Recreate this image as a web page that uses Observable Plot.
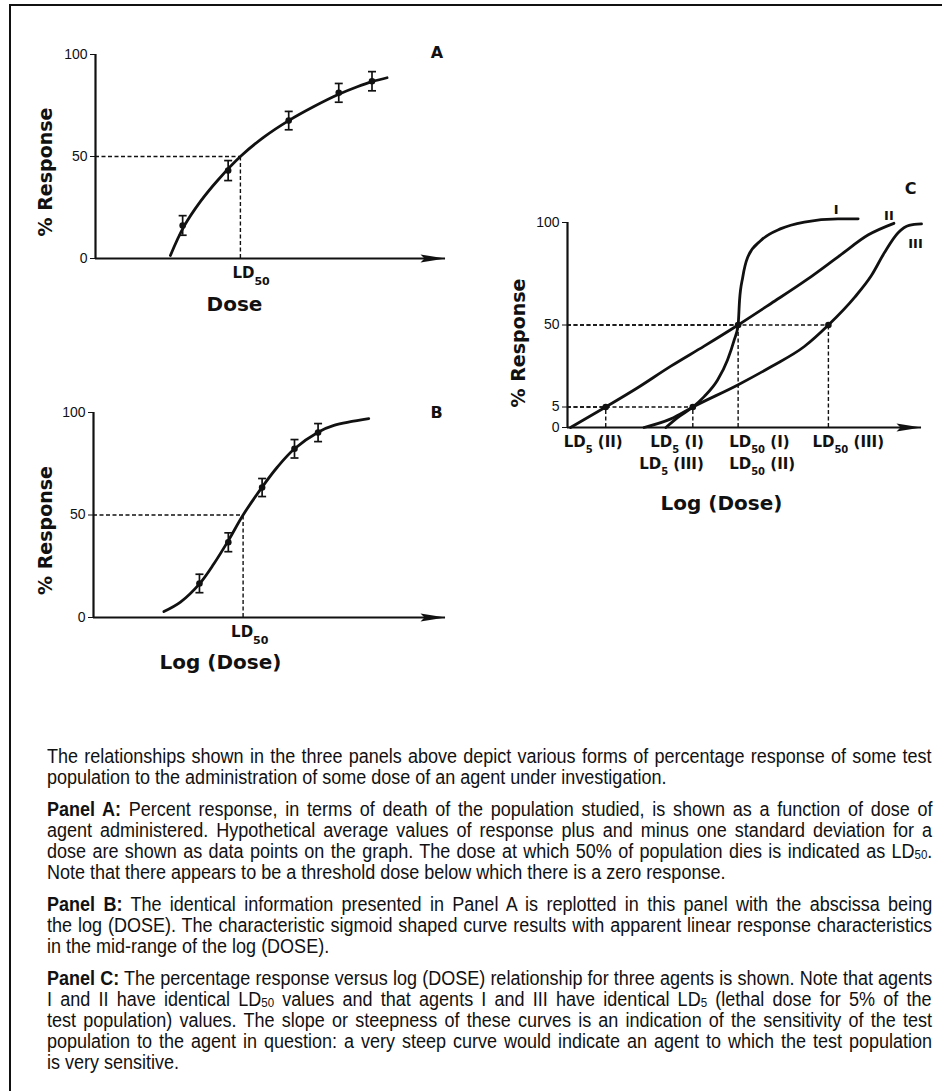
<!DOCTYPE html>
<html>
<head>
<meta charset="utf-8">
<script src="https://cdn.jsdelivr.net/npm/d3@7"></script>
<script src="https://cdn.jsdelivr.net/npm/@observablehq/plot@0.6"></script>
<style>
  html, body { margin: 0; padding: 0; background: #fff; }
  #page { position: relative; width: 942px; height: 1091px; overflow: hidden; background: #fff; }
  .rule { position: absolute; background: #111; }
  .panel { position: absolute; overflow: visible; }
  #caption {
    position: absolute; left: 47px; top: 746px; width: 1000px;
    transform-origin: 0 0;
    font-family: "Liberation Sans", Arial, Helvetica, sans-serif;
    font-size: 20px; line-height: 21px; color: #111;
  }
  #caption .p { margin-bottom: 11px; }
  #caption .j, #caption .l { display: block; height: 21px; }
  #caption .j > span, #caption .l > span { display: inline-block; white-space: nowrap; }
  #caption b { font-weight: bold; }
  #caption sub { font-size: 0.64em; line-height: 1; vertical-align: -0.08em; }
</style>
</head>
<body>
<div id="page">
  <div class="rule" style="left:9px;top:4px;width:933px;height:2px;"></div>
  <div class="rule" style="left:9px;top:4px;width:2px;height:1087px;"></div>
  <div id="caption">
    <div class="p">
      <div class="j"><span>The relationships shown in the three panels above depict various forms of percentage response of some test</span></div>
      <div class="l"><span>population to the administration of some dose of an agent under investigation.</span></div>
    </div>
    <div class="p">
      <div class="j"><span><b>Panel A:</b> Percent response, in terms of death of the population studied, is shown as a function of dose of</span></div>
      <div class="j"><span>agent administered. Hypothetical average values of response plus and minus one standard deviation for a</span></div>
      <div class="j"><span>dose are shown as data points on the graph. The dose at which 50% of population dies is indicated as LD<sub>50</sub>.</span></div>
      <div class="l"><span>Note that there appears to be a threshold dose below which there is a zero response.</span></div>
    </div>
    <div class="p">
      <div class="j"><span><b>Panel B:</b> The identical information presented in Panel A is replotted in this panel with the abscissa being</span></div>
      <div class="j"><span>the log (DOSE). The characteristic sigmoid shaped curve results with apparent linear response characteristics</span></div>
      <div class="l"><span>in the mid-range of the log (DOSE).</span></div>
    </div>
    <div class="p">
      <div class="j"><span><b>Panel C:</b> The percentage response versus log (DOSE) relationship for three agents is shown. Note that agents</span></div>
      <div class="j"><span>I and II have identical LD<sub>50</sub> values and that agents I and III have identical LD<sub>5</sub> (lethal dose for 5% of the</span></div>
      <div class="j"><span>test population) values. The slope or steepness of these curves is an indication of the sensitivity of the test</span></div>
      <div class="j"><span>population to the agent in question: a very steep curve would indicate an agent to which the test population</span></div>
      <div class="l"><span>is very sensitive.</span></div>
    </div>
  </div>
</div>
<script>
// ---------------- DATA ----------------
// Panel A: % response vs dose (arbitrary dose units 0-100)
const aCurveDose = [21.4, 25.2, 30.0, 35.0, 41.4, 48.1, 55.2, 62.4, 69.5, 74.8, 79.0, 83.3];
const aCurveResp = [1.5, 15.5, 28.0, 38.5, 50.0, 59.5, 67.6, 74.5, 80.5, 84.2, 86.7, 88.6];
const aPointDose = [24.9, 37.9, 55.2, 69.5, 79.0];
const aPointResp = [16.2, 43.1, 67.6, 81.2, 86.9];
const aPointSD   = [4.8, 4.9, 4.5, 4.6, 4.7];
const aLD50 = 41.4;

// Panel B: % response vs log(dose)
const bCurveDose = [20.0, 24.7, 30.1, 34.2, 38.3, 42.5, 47.9, 52.2, 57.1, 63.8, 68.3, 78.2];
const bCurveResp = [2.9, 7.5, 16.4, 26.2, 37.5, 50.0, 63.6, 73.3, 82.3, 90.4, 93.7, 97.0];
const bPointDose = [30.1, 38.3, 47.9, 57.1, 63.8];
const bPointResp = [16.6, 36.7, 63.4, 82.3, 90.2];
const bPointSD   = [4.5, 4.6, 4.4, 4.5, 4.4];
const bLD50 = 42.5;

// Panel C: three agents, % response vs log(dose)
const cDoseI   = [27.8, 31.1, 35.4, 38.6, 42.4, 45.2, 47.1, 48.2, 48.6, 49.5, 50.9, 54.7, 60.3, 66.9, 76.4, 82.1];
const cRespI   = [0, 2.4, 5, 10.7, 19.8, 30.8, 41.8, 50, 62, 73.3, 83, 91.3, 97, 100.2, 101.8, 101.8];
const cDoseII  = [0.85, 10.8, 19.7, 29.2, 38.6, 48.2, 57.5, 67.5, 77.0, 85.0, 92.2];
const cRespII  = [0, 5, 15.4, 27.4, 38.4, 50, 60.5, 72, 84, 94, 99.6];
const cDoseIII = [21.6, 29.2, 35.4, 48.1, 57.5, 66.9, 73.7, 81.1, 85.8, 89.6, 93.4, 96.5, 100];
const cRespIII = [0, 2.1, 5, 17.1, 27.1, 38.2, 50, 63.5, 74.0, 85.5, 95.0, 98.6, 99.3];
const cCurveNames = ["I", "II", "III"];
const cLdDose   = [10.8, 35.4, 48.2, 73.7];
const cLdResp   = [5, 5, 50, 50];
const cLdLabel  = ["LD_5 (II)", "LD_5 (I)", "LD_50 (I)", "LD_50 (III)"];
const cLdLabel2 = ["", "LD_5 (III)", "LD_50 (II)", ""];

// Tick labels
const yTicksAB = [0, 50, 100];
const yTicksC  = [0, 5, 50, 100];

// ---------------- CAPTION LINE JUSTIFICATION ----------------
(function justifyCaption() {
  const cap = document.getElementById("caption");
  const squeeze = 0.9, target = 885 / squeeze;
  cap.style.width = target + "px";
  cap.style.transform = `scaleX(${squeeze})`;
  cap.querySelectorAll(".j > span").forEach(span => {
    const n = (span.textContent.match(/ /g) || []).length;
    const w = span.offsetWidth;
    if (n > 0) span.style.wordSpacing = ((target - w) / n) + "px";
  });
  cap.querySelectorAll(".l > span").forEach(span => {
    const w = span.offsetWidth;
    if (w > target) {
      const n = (span.textContent.match(/ /g) || []).length;
      if (n > 0) span.style.wordSpacing = ((target - w) / n) + "px";
    }
  });
})();

// ---------------- DRAWING ----------------
const ink = "#111";
const bold = "DejaVu Sans, Verdana, sans-serif";
const tickFont = "Liberation Sans, Arial, Helvetica, sans-serif";

const arrowHead = { draw(ctx) { ctx.moveTo(0, 0); ctx.lineTo(-25, -4); ctx.lineTo(-21, 0); ctx.lineTo(-25, 4); ctx.closePath(); } };
const capSymbol = { draw(ctx) { ctx.moveTo(-4, 0); ctx.lineTo(4, 0); } };

const zip = (xs, ys) => xs.map((x, i) => ({x, y: ys[i]}));

function subscriptify(svg, subSize, subDy) {
  d3.select(svg).selectAll("text").each(function () {
    if (this.querySelector("tspan")) return;
    const m = /^(.*?)_(\d+)(.*)$/.exec(this.textContent);
    if (!m) return;
    const s = d3.select(this);
    s.text(null);
    s.append("tspan").text(m[1]);
    s.append("tspan").attr("font-size", subSize).attr("dy", subDy).text(m[2]);
    if (m[3]) s.append("tspan").attr("dy", -subDy).text(m[3].replace(/^ /, "\u00a0"));
  });
}

function axesMarks() {
  return [
    Plot.ruleX([0], {y1: 0, y2: 100, stroke: ink, strokeWidth: 2.2}),
    Plot.ruleY([0], {x1: 0, x2: 100, stroke: ink, strokeWidth: 2.2}),
    Plot.dot([100], {x: d => d, y: 0, symbol: arrowHead, fill: ink, stroke: "none"})
  ];
}

function dashMarks(ld) {
  return [
    Plot.ruleY([50], {x1: 0, x2: ld, stroke: ink, strokeWidth: 1.4, strokeDasharray: "4,2.5"}),
    Plot.ruleX([ld], {y1: 0, y2: 50, stroke: ink, strokeWidth: 1.4, strokeDasharray: "4,2.5"})
  ];
}

function errorMarks(pts) {
  return [
    Plot.ruleX(pts, {x: "x", y1: d => d.y - d.sd, y2: d => d.y + d.sd, stroke: ink, strokeWidth: 1.7}),
    Plot.dot(pts, {x: "x", y: d => d.y - d.sd, symbol: capSymbol, stroke: ink, fill: "none", strokeWidth: 1.7}),
    Plot.dot(pts, {x: "x", y: d => d.y + d.sd, symbol: capSymbol, stroke: ink, fill: "none", strokeWidth: 1.7}),
    Plot.dot(pts, {x: "x", y: "y", r: 3.3, fill: ink, stroke: "none"})
  ];
}

function doseResponsePanel({curve, pts, ld, letter, xlabel, dims, ylabelDx, ylabelDy, xlabelDx, xlabelDy, letterDx, letterDy, ldDx}) {
  const svg = Plot.plot({
    ...dims,
    style: {fontFamily: tickFont, fontSize: "14px", color: ink, background: "transparent", overflow: "visible"},
    x: {domain: [0, 100], axis: null},
    y: {domain: [0, 100], ticks: yTicksAB, tickSize: 5, tickPadding: 3, label: null},
    marks: [
      ...dashMarks(ld),
      ...axesMarks(),
      Plot.line(curve, {x: "x", y: "y", curve: "catmull-rom", stroke: ink, strokeWidth: 2.8}),
      ...errorMarks(pts),
      Plot.text([ld], {x: d => d, y: 0, text: () => "LD_50", dy: 14.5, dx: ldDx, textAnchor: "start", lineAnchor: "middle",
        fontFamily: bold, fontWeight: "bold", fontSize: 15, fill: ink}),
      Plot.text([xlabel], {text: d => d, frameAnchor: "bottom", dx: xlabelDx, dy: xlabelDy, textAnchor: "middle", lineAnchor: "middle",
        fontFamily: bold, fontWeight: "bold", fontSize: 20, fill: ink}),
      Plot.text(["% Response"], {text: d => d, frameAnchor: "left", rotate: -90, dx: ylabelDx, dy: ylabelDy, textAnchor: "middle", lineAnchor: "middle",
        fontFamily: bold, fontWeight: "bold", fontSize: 19, fill: ink}),
      Plot.text([letter], {text: d => d, frameAnchor: "top-right", dx: letterDx, dy: letterDy, textAnchor: "middle", lineAnchor: "middle",
        fontFamily: bold, fontWeight: "bold", fontSize: 16, fill: ink})
    ]
  });
  subscriptify(svg, 11, 7);
  return svg;
}

const page = document.getElementById("page");
function place(svg, left, top) {
  svg.classList.add("panel");
  svg.style.left = left + "px";
  svg.style.top = top + "px";
  svg.style.position = "absolute";
  page.appendChild(svg);
}

// Panel A
const aPts = aPointDose.map((x, i) => ({x, y: aPointResp[i], sd: aPointSD[i]}));
place(doseResponsePanel({
  curve: zip(aCurveDose, aCurveResp), pts: aPts, ld: aLD50, letter: "A", xlabel: "Dose",
  dims: {width: 470, height: 320, marginLeft: 95, marginRight: 25, marginTop: 54, marginBottom: 62},
  ylabelDx: -50, ylabelDy: 15.5, xlabelDx: -36, xlabelDy: 46, letterDx: -8.5, letterDy: -2, ldDx: -8
}), 0, 0);

// Panel B
const bPts = bPointDose.map((x, i) => ({x, y: bPointResp[i], sd: bPointSD[i]}));
place(doseResponsePanel({
  curve: zip(bCurveDose, bCurveResp), pts: bPts, ld: bLD50, letter: "B", xlabel: "Log (Dose)",
  dims: {width: 470, height: 340, marginLeft: 93, marginRight: 25, marginTop: 72, marginBottom: 63},
  ylabelDx: -48, ylabelDy: 15.5, xlabelDx: -49, xlabelDy: 45, letterDx: -9, letterDy: 0, ldDx: -12
}), 0, 340);

// Panel C: schematic response axis (0, 5, 50, 100 drawn at 0, 10%, 50%, 100% of the axis height)
const cSchematic = d3.scaleLinear().domain(yTicksC).range([0, 10, 50, 100]);
const cCurves = [zip(cDoseI, cRespI), zip(cDoseII, cRespII), zip(cDoseIII, cRespIII)];
const cLd = cLdDose.map((x, i) => ({x, y: cLdResp[i], label: cLdLabel[i], label2: cLdLabel2[i]}));
const endOf = c => [c[c.length - 1]];
const ldText = (i, row, anchor, dx) => Plot.text([cLd[i]], {
  x: "x", y: () => 0, text: d => row === 1 ? d.label : d.label2, dy: row === 1 ? 14.5 : 37, dx,
  textAnchor: anchor, lineAnchor: "middle", fontFamily: bold, fontWeight: "bold", fontSize: 15, fill: ink
});
const curveLabel = (i, dx, dy) => Plot.text(endOf(cCurves[i]), {
  x: "x", y: "y", text: () => cCurveNames[i], dx, dy, textAnchor: "middle", lineAnchor: "middle",
  fontFamily: bold, fontWeight: "bold", fontSize: 13, fill: ink
});
const dashC = {stroke: ink, strokeWidth: 1.4, strokeDasharray: "4,2.5"};
const svgC = Plot.plot({
  width: 472, height: 380, marginLeft: 97, marginRight: 21, marginTop: 72, marginBottom: 103,
  style: {fontFamily: tickFont, fontSize: "14px", color: ink, background: "transparent", overflow: "visible"},
  x: {domain: [0, 100], axis: null},
  y: {domain: [0, 100], transform: cSchematic, ticks: yTicksC.map(cSchematic),
      tickFormat: d => String(Math.round(cSchematic.invert(d))), tickSize: 5, tickPadding: 3, label: null},
  marks: [
    Plot.ruleY(cLd, {y: "y", x1: 0, x2: "x", ...dashC}),
    Plot.ruleX(cLd, {x: "x", y1: 0, y2: "y", ...dashC}),
    ...axesMarks(),
    ...cCurves.map(c => Plot.line(c, {x: "x", y: "y", curve: "monotone-x", stroke: ink, strokeWidth: 2.8})),
    Plot.dot(cLd, {x: "x", y: "y", r: 3.3, fill: ink, stroke: "none"}),
    ldText(0, 1, "end", 17), ldText(1, 1, "end", 11), ldText(2, 1, "start", -9), ldText(3, 1, "start", -16),
    ldText(1, 2, "end", 11), ldText(2, 2, "start", -9),
    curveLabel(0, -22, -9), curveLabel(1, -5, -7), curveLabel(2, -6, 20),
    Plot.text(["Log (Dose)"], {text: d => d, frameAnchor: "bottom", dx: -23, dy: 76, textAnchor: "middle", lineAnchor: "middle",
      fontFamily: bold, fontWeight: "bold", fontSize: 20, fill: ink}),
    Plot.text(["% Response"], {text: d => d, frameAnchor: "left", rotate: -90, dx: -48.5, dy: 18, textAnchor: "middle", lineAnchor: "middle",
      fontFamily: bold, fontWeight: "bold", fontSize: 19, fill: ink}),
    Plot.text(["C"], {text: d => d, frameAnchor: "top-right", dx: -11, dy: -33.5, textAnchor: "middle", lineAnchor: "middle",
      fontFamily: bold, fontWeight: "bold", fontSize: 16, fill: ink})
  ]
});
subscriptify(svgC, 10, 6);
place(svgC, 470, 150);
</script>
</body>
</html>
